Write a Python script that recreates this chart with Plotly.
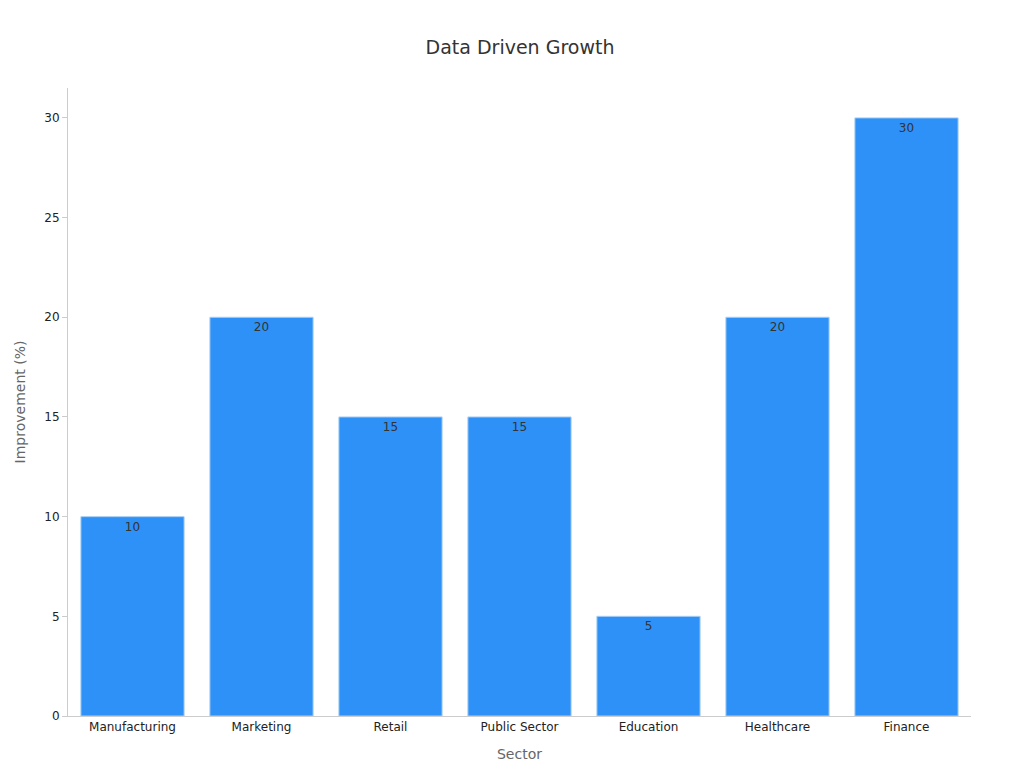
import plotly.graph_objects as go

sectors = ["Manufacturing", "Marketing", "Retail", "Public Sector", "Education", "Healthcare", "Finance"]
improvement = [10, 20, 15, 15, 5, 20, 30]

fig = go.Figure(go.Bar(
    x=sectors, y=improvement,
    text=improvement, textposition="inside", insidetextanchor="end",
    textfont=dict(color="#333333", size=12),
    marker=dict(color="#2E91F7", line=dict(color="#A9CFF5", width=1)),
    width=0.8,
))

fig.update_layout(
    width=1024, height=768,
    font=dict(family="DejaVu Sans", size=12, color="#222222"),
    title=dict(text="Data Driven Growth", x=0.5, y=0.957, font=dict(size=19, color="#333333")),
    plot_bgcolor="white", paper_bgcolor="white",
    margin=dict(l=60, r=61, t=80, b=60),
    showlegend=False,
    xaxis=dict(title=dict(text="Sector", font=dict(size=14, color="#666666")),
               showline=True, linecolor="#cccccc", ticks="", showgrid=False),
    yaxis=dict(title=dict(text="Improvement (%)", font=dict(size=14, color="#666666")),
               range=[0, 31.5], dtick=5, showline=True, linecolor="#cccccc",
               ticks="outside", ticklen=5, tickcolor="#cccccc", showgrid=False, zeroline=False),
)

fig.write_html("out.html")
